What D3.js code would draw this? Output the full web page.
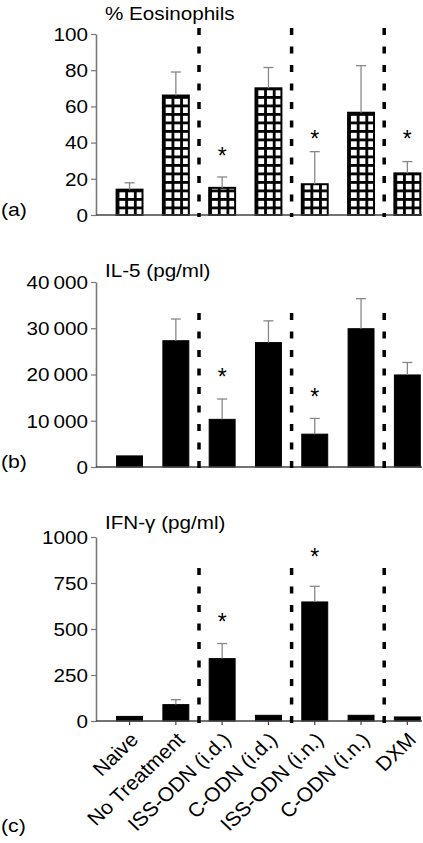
<!DOCTYPE html>
<html><head><meta charset="utf-8">
<script src="https://cdn.jsdelivr.net/npm/d3@7/dist/d3.min.js"></script>
<style>
html,body{margin:0;padding:0;background:#fff;}
svg{display:block;font-family:"Liberation Sans",Arial,Helvetica,sans-serif;}
</style></head>
<body>
<svg id="chart" width="423" height="843"></svg>
<script>
const categories = ["Naive","No Treatment","ISS-ODN (i.d.)","C-ODN (i.d.)","ISS-ODN (i.n.)","C-ODN (i.n.)","DXM"];

const eosValues = [14, 66, 15, 70, 17, 56.5, 23];
const eosErrors = [3.8, 13, 6, 11.5, 18, 26, 6.5];
const eosStars  = [null, null, 35, null, 44, null, 44];
const eosTicks  = [0, 20, 40, 60, 80, 100];

const il5Values = [2400, 27300, 10300, 26900, 7100, 29900, 19900];
const il5Errors = [0, 4700, 4400, 4700, 3400, 6500, 2700];
const il5Stars  = [null, null, 20400, null, 15900, null, null];
const il5Ticks  = [0, 10000, 20000, 30000, 40000];

const ifnValues = [25, 89, 339, 31, 647, 31, 22];
const ifnErrors = [0, 27, 82, 0, 85, 0, 0];
const ifnStars  = [null, null, 558, null, 912, null, null];
const ifnTicks  = [0, 250, 500, 750, 1000];

const dividerAfter = [1, 3, 5]; // dashed separators after these category indices

const svg = d3.select("#chart");
const SX = 1.18; // horizontal stretch of the original typesetting
const axisX = 96, axisRight = 422;

const x = d3.scaleBand().domain(categories).range([106.4, 430.5]).paddingInner(0.44).paddingOuter(0.22);

const panels = [
  {id:"a", title:"% Eosinophils", vals:eosValues, errs:eosErrors, stars:eosStars, ticks:eosTicks, max:100,
   top:34, bottom:215, titleY:20, dashTop:28, pattern:true, fmt:d=>String(d)},
  {id:"b", title:"IL-5 (pg/ml)", vals:il5Values, errs:il5Errors, stars:il5Stars, ticks:il5Ticks, max:40000,
   top:282, bottom:467, titleY:277, dashTop:313, pattern:false,
   fmt:d=> d===0 ? "0" : d3.format(",")(d).replace(",", "\u2009")},
  {id:"c", title:"IFN-\u03b3 (pg/ml)", vals:ifnValues, errs:ifnErrors, stars:ifnStars, ticks:ifnTicks, max:1000,
   top:537, bottom:721, titleY:529, dashTop:568, pattern:false, fmt:d=>String(d)}
];

const defs = svg.append("defs");

panels.forEach(p => {
  const g = svg.append("g");
  const y = d3.scaleLinear().domain([0, p.max]).range([p.bottom, p.top]);

  // title
  g.append("text").attr("transform", `translate(105,${p.titleY}) scale(${SX},1)`)
    .attr("font-size", 17.5).attr("fill", "#000").text(p.title);

  // panel letter
  const letterY = p.id === "c" ? 832 : p.bottom + 1;
  g.append("text").attr("transform", `translate(1,${letterY}) scale(${SX},1)`)
    .attr("font-size", 18).text(`(${p.id})`);

  // y axis
  const ax = g.append("g").attr("transform", `translate(${axisX},0)`)
    .call(d3.axisLeft(y).tickValues(p.ticks).tickFormat(p.fmt).tickSize(5).tickSizeOuter(0).tickPadding(0));
  ax.select(".domain").attr("stroke", "#777").attr("stroke-width", 1.6);
  ax.selectAll(".tick line").attr("stroke", "#777").attr("stroke-width", 1.2);
  ax.selectAll(".tick text").attr("font-size", 17.5).attr("fill", "#000")
    .attr("font-family", '"Liberation Sans",Arial,sans-serif')
    .attr("x", -8 / SX).attr("dy", "0.36em")
    .attr("transform", `scale(${SX},1)`);

  // bars
  const bw = x.bandwidth();
  categories.forEach((c, i) => {
    const bx = x(c), by = y(p.vals[i]), bh = p.bottom - by;
    let fill = "#000";
    if (p.pattern) {
      const pid = `grid${i}`;
      const cw = bw / 3, ch = 8.5;
      const pat = defs.append("pattern").attr("id", pid).attr("patternUnits", "userSpaceOnUse")
        .attr("x", bx).attr("y", p.bottom).attr("width", cw).attr("height", ch);
      pat.append("rect").attr("width", cw).attr("height", ch).attr("fill", "#fff");
      pat.append("rect").attr("x", 0).attr("y", 0).attr("width", 2.8).attr("height", ch).attr("fill", "#000");
      pat.append("rect").attr("x", 0).attr("y", 0).attr("width", cw).attr("height", 2.8).attr("fill", "#000");
      fill = `url(#${pid})`;
    }
    g.append("rect").attr("x", bx).attr("y", by).attr("width", bw).attr("height", bh)
      .attr("fill", fill).attr("stroke", "#000").attr("stroke-width", p.pattern ? 2 : 1);

    // error bar
    if (p.errs[i] > 0) {
      const ey = y(p.vals[i] + p.errs[i]), cx = bx + bw / 2;
      g.append("line").attr("x1", cx).attr("x2", cx).attr("y1", by).attr("y2", ey)
        .attr("stroke", "#888").attr("stroke-width", 1.3);
      g.append("line").attr("x1", cx - 5).attr("x2", cx + 5).attr("y1", ey).attr("y2", ey)
        .attr("stroke", "#888").attr("stroke-width", 1.3);
    }
    // significance star
    if (p.stars[i] != null) {
      g.append("text").attr("x", bx + bw / 2).attr("y", y(p.stars[i]) + 12)
        .attr("text-anchor", "middle").attr("font-size", 23).text("*");
    }
  });

  // baseline
  g.append("line").attr("x1", axisX).attr("x2", axisRight).attr("y1", p.bottom).attr("y2", p.bottom)
    .attr("stroke", "#444").attr("stroke-width", 1.5);

  // dashed dividers
  dividerAfter.forEach(k => {
    const dx = x(categories[k]) + bw + (x.step() - bw) / 2;
    g.append("line").attr("x1", dx).attr("x2", dx).attr("y1", p.dashTop).attr("y2", p.bottom + 2)
      .attr("stroke", "#000").attr("stroke-width", 3.5).attr("stroke-dasharray", "7,11.5");
  });

  // x ticks & labels in bottom panel
  if (p.id === "c") {
    categories.forEach(c => {
      const cx = x(c) + bw / 2;
      g.append("line").attr("x1", cx).attr("x2", cx).attr("y1", p.bottom).attr("y2", p.bottom + 4)
        .attr("stroke", "#444").attr("stroke-width", 1.2);
      g.append("text").attr("transform", `translate(${cx + 10},${741}) scale(1.05,1) rotate(-45)`)
        .attr("text-anchor", "end").attr("font-size", 20).text(c);
    });
  }
});
</script>
</body></html>
